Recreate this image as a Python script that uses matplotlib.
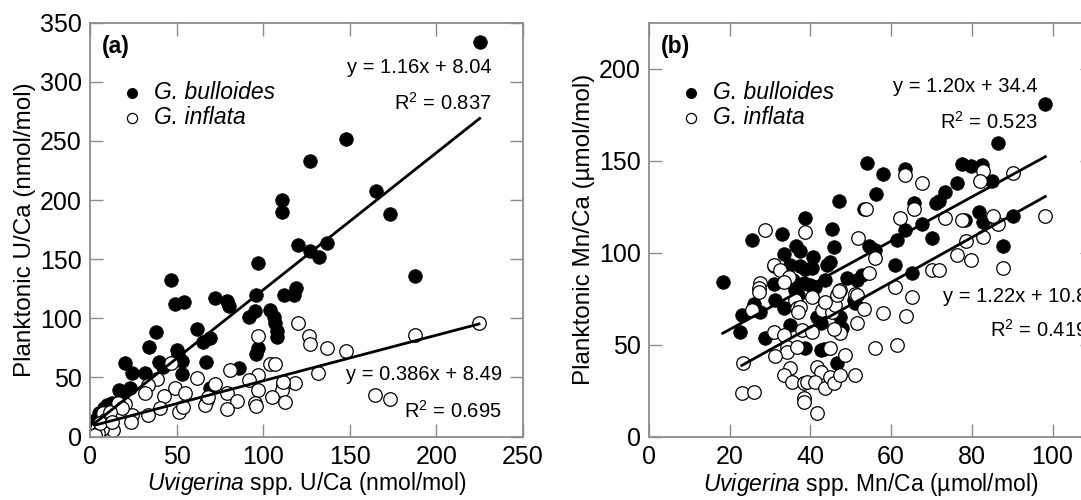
import matplotlib
matplotlib.use("Agg")
import matplotlib.pyplot as plt
import numpy as np

plt.rcParams['font.family'] = ['Liberation Sans', 'DejaVu Sans']
plt.rcParams['mathtext.fontset'] = 'custom'
plt.rcParams['mathtext.rm'] = 'Liberation Sans'
plt.rcParams['mathtext.it'] = 'Liberation Sans:italic'
plt.rcParams['mathtext.bf'] = 'Liberation Sans:bold'

# ---------------- Panel (a): U/Ca ----------------
a_bul_x = [225, 148, 127, 165, 173, 110.6, 110.6, 120, 127, 132, 137, 187.5, 97, 47, 49,
           54, 72, 79, 80, 96, 104, 106, 107, 108, 108, 92, 95, 119, 118, 112,
           97, 96, 61.5, 65, 69, 67, 34, 38, 20, 24, 32, 40, 42, 50, 51,
           53, 53, 86, 17, 18, 23, 69, 10, 8, 5, 3, 2, 12.5]
a_bul_y = [334, 252, 233, 208, 188, 200, 190, 162, 157, 152, 164, 136, 147, 132, 112,
           114, 117, 115, 110, 120, 107, 101, 96, 89, 84, 101, 106, 126, 120, 120,
           75, 70, 91, 80, 83, 63, 76, 88, 62, 54, 54, 63, 59, 73, 69,
           64, 53, 58, 39, 37, 41, 41, 27, 24, 20, 14, 8, 28]
a_inf_x = [224.6, 187.5, 120, 126.5, 127.3, 137, 147.7, 131.4, 118.3, 111.5, 110.6, 112.5,
           164.8, 173, 97.1, 104.2, 106.7, 111.2, 104.8, 97.1, 91.9, 97.1, 95.2, 95.8,
           80.8, 78.9, 85, 79.2, 72.1, 61.5, 67.3, 66.3, 68.3, 46.7, 49, 54.8, 51.3, 53.5,
           38.5, 33.7, 31.7, 42.7, 40.4, 33.7, 20.2, 24, 23.7, 16.3, 18.3, 13.5, 7.7, 6.7,
           8.7, 3.8, 4.8, 3, 5.8, 11.5, 12.7]
a_inf_y = [96.4, 86, 96.4, 84.6, 78.4, 74.7, 71.9, 54.1, 45.1, 43.6, 39.4, 29.5,
           35.2, 31.8, 84.6, 61.2, 61.2, 46.4, 33.7, 52.1, 47.9, 39.4, 28.6, 25.8,
           56.4, 36.6, 30.1, 23, 44.5, 49.3, 30.9, 26.7, 33.7, 62, 40.8, 37.1, 21, 25.3,
           48.7, 43.6, 37.1, 34.3, 23.9, 18.2, 27.5, 18.2, 12.5, 28.1, 23.9, 5.5, 19.7, 6.1,
           14, 7, 3, 1, 11.7, 21, 12.5]
a_fit_bul = (1.16, 8.04)
a_fit_inf = (0.386, 8.49)

# ---------------- Panel (b): Mn/Ca ----------------
b_bul_x = [18.3, 23, 25.9, 27.6, 22.6, 28.8, 25.5, 33, 38.7, 36.5, 37.5, 33.4, 40.6, 40.4,
           35, 37.5, 38.7, 30.9, 30.9, 35.8, 38.3, 35.4, 36.3, 40, 41.2, 31.3, 33.4, 38.7,
           42.5, 43.3, 46.6, 47.8, 51.1, 41.6, 42.5, 44.1, 47.4, 35, 37, 45.4, 45.8, 44.1,
           44.9, 43.7, 49.1, 51.5, 52.8, 47.2, 53.2, 53.9, 58, 63.5, 56.3, 65.6, 71.2, 54.4,
           56.1, 61.5, 63.5, 67.7, 70.1, 61, 65.2, 77.6, 79.8, 82.5, 85, 76.3, 73.4, 71.8,
           81.7, 82.8, 90.2, 78.4, 87.7, 86.5, 98.2, 50.7]
b_bul_y = [84, 66, 72, 68, 57, 54, 107, 110, 119, 104, 101, 99.5, 98, 92,
           93.5, 92.6, 91, 92.6, 83, 85, 83.5, 83.5, 80, 82.6, 81.7, 74.5, 70, 48.5,
           47.3, 47.7, 40, 59, 72.7, 65.4, 61.8, 69, 65.4, 61, 77, 113, 103.4, 93.5,
           95.3, 85.3, 86.3, 85.3, 88, 128, 123.7, 149, 143, 145.5, 132, 127, 127.3, 104,
           101.6, 107, 112.5, 115.5, 108, 93.5, 89.3, 148.4, 147.4, 147.8, 139.3, 138.2, 133.3, 128,
           122.4, 117, 120, 117.6, 103.8, 159.6, 181, 74.5]
b_inf_x = [28.8, 38.7, 30.9, 32.5, 34.8, 27.6, 27.2, 27.2, 33.4, 25.5, 36.3, 36.7, 37.5, 37,
           40.4, 42.9, 45.4, 46.2, 47.4, 46.6, 30.9, 33.4, 34.2, 34.2, 31.3, 36.7, 37.9, 40.4,
           23.4, 23, 25.9, 35, 33.4, 35.4, 38.3, 38.3, 38.3, 41.6, 41.6, 42.5, 39.2, 41.2,
           43.7, 44.9, 45.8, 47.4, 48.6, 51.1, 51.5, 47.4, 44.9, 45.8, 43.7, 47.2, 51.1, 51.9,
           61, 65.2, 58, 63.7, 53.2, 56.1, 61.5, 54.4, 56.1, 51.5, 70.1, 71.8, 76.3, 79.8,
           78.6, 82.8, 86.4, 87.7, 63.5, 67.7, 82.8, 81.9, 90.2, 98.2, 53.8, 65.6, 62.1, 73.4,
           77.6, 85.3]
b_inf_y = [112.5, 111.6, 93.5, 90.8, 87.1, 83.5, 80.8, 79, 84.4, 69, 74.5, 70, 70.8, 68.1,
           76.2, 69, 68.1, 71.7, 79.9, 77.2, 57.2, 55.4, 49.1, 46.4, 44, 49.1, 58.2, 57.2,
           40.4, 23.8, 24.6, 37.3, 33.7, 30, 29.2, 21, 19.2, 12.9, 38.2, 35.5, 30, 30,
           26.5, 32.8, 29.2, 33.7, 44.6, 33.7, 61.8, 56.4, 48.2, 58.5, 73.5, 79.5, 77.7, 108,
           81.4, 76.2, 67.6, 65.8, 69.4, 48.2, 50, 89, 97.1, 77.2, 90.8, 90.8, 98.9, 96.2,
           106.5, 108.7, 115.5, 92, 142.4, 138.2, 144.7, 139.3, 143.6, 120.1, 123.8, 123.7, 118.9, 118.9,
           117.6, 120.1]
b_fit_bul = (1.20, 34.4)
b_fit_inf = (1.22, 10.8)

W, H = 1081, 500
fig = plt.figure(figsize=(W / 100, H / 100), dpi=100)

ax_a = fig.add_axes([90 / W, 63.5 / H, 433 / W, 413.8 / H])
ax_b = fig.add_axes([649 / W, 63 / H, 443.9 / W, 414.3 / H])

spine_col = '#8c8c8c'
FS_TICK = 18
FS_XLAB = 16.5
FS_YLAB = 17.5
FS_EQ = 14.5
FS_LEG = 16.5

def style(ax):
    for s in ax.spines.values():
        s.set_color(spine_col)
        s.set_linewidth(1.3)
    ax.tick_params(direction='in', length=9.5, width=1.0, color=spine_col,
                   top=True, right=True, labelsize=FS_TICK, pad=6)

def draw_panel(ax, bx, by, ix, iy, fb, fi):
    bx = np.asarray(bx); by = np.asarray(by)
    ix = np.asarray(ix); iy = np.asarray(iy)
    h1 = ax.scatter(bx, by, s=95, c='black', edgecolors='black', linewidths=0.6,
                    zorder=2, label='G. bulloides')
    h2 = ax.scatter(ix, iy, s=95, facecolors='white', edgecolors='black', linewidths=0.9,
                    zorder=2.5, label='G. inflata')
    xb = np.array([bx.min(), bx.max()])
    xi = np.array([ix.min(), ix.max()])
    ax.plot(xb, fb[0] * xb + fb[1], color='black', lw=2.0, zorder=3)
    ax.plot(xi, fi[0] * xi + fi[1], color='black', lw=2.0, zorder=3)
    return h1, h2

# Panel (a)
h1, h2 = draw_panel(ax_a, a_bul_x, a_bul_y, a_inf_x, a_inf_y, a_fit_bul, a_fit_inf)
ax_a.set_xlim(0, 250)
ax_a.set_ylim(0, 350)
ax_a.set_xticks(np.arange(0, 251, 50))
ax_a.set_yticks(np.arange(0, 351, 50))
style(ax_a)
ax_a.set_xlabel(r'$\it{Uvigerina}$ spp. U/Ca (nmol/mol)', fontsize=FS_XLAB, labelpad=1)
ax_a.set_ylabel('Planktonic U/Ca (nmol/mol)', fontsize=FS_YLAB, labelpad=3)
ax_a.text(0.027, 0.942, '(a)', transform=ax_a.transAxes, fontsize=16.5, fontweight='bold',
          ha='left', va='center')
ax_a.text(0.928, 0.891, 'y = 1.16x + 8.04', transform=ax_a.transAxes, fontsize=FS_EQ,
          ha='right', va='center')
ax_a.text(0.928, 0.806, r'R$^2$ = 0.837', transform=ax_a.transAxes, fontsize=FS_EQ,
          ha='right', va='center')
ax_a.text(0.951, 0.149, 'y = 0.386x + 8.49', transform=ax_a.transAxes, fontsize=FS_EQ,
          ha='right', va='center')
ax_a.text(0.951, 0.062, r'R$^2$ = 0.695', transform=ax_a.transAxes, fontsize=FS_EQ,
          ha='right', va='center')
ax_a.legend(handles=[h1, h2], loc='upper left', bbox_to_anchor=(0.043, 0.886),
            frameon=False, borderpad=0, handlelength=1.0, handletextpad=0.47,
            labelspacing=0.08, markerscale=0.75,
            prop={'style': 'italic', 'size': FS_LEG})

# Panel (b)
g1, g2 = draw_panel(ax_b, b_bul_x, b_bul_y, b_inf_x, b_inf_y, b_fit_bul, b_fit_inf)
ax_b.set_xlim(0, 110)
ax_b.set_ylim(0, 225)
ax_b.set_xticks(np.arange(0, 101, 20))
ax_b.set_yticks(np.arange(0, 201, 50))
style(ax_b)
ax_b.set_xlabel(r'$\it{Uvigerina}$ spp. Mn/Ca (µmol/mol)', fontsize=FS_XLAB, labelpad=1)
ax_b.set_ylabel('Planktonic Mn/Ca (µmol/mol)', fontsize=FS_YLAB, labelpad=3)
ax_b.text(0.026, 0.942, '(b)', transform=ax_b.transAxes, fontsize=16.5, fontweight='bold',
          ha='left', va='center')
ax_b.text(0.875, 0.846, 'y = 1.20x + 34.4', transform=ax_b.transAxes, fontsize=FS_EQ,
          ha='right', va='center')
ax_b.text(0.875, 0.761, r'R$^2$ = 0.523', transform=ax_b.transAxes, fontsize=FS_EQ,
          ha='right', va='center')
ax_b.text(0.662, 0.340, 'y = 1.22x + 10.8', transform=ax_b.transAxes, fontsize=FS_EQ,
          ha='left', va='center')
ax_b.text(0.768, 0.258, r'R$^2$ = 0.419', transform=ax_b.transAxes, fontsize=FS_EQ,
          ha='left', va='center')
ax_b.legend(handles=[g1, g2], loc='upper left', bbox_to_anchor=(0.042, 0.886),
            frameon=False, borderpad=0, handlelength=1.0, handletextpad=0.47,
            labelspacing=0.08, markerscale=0.75,
            prop={'style': 'italic', 'size': FS_LEG})

fig.savefig('out.png', dpi=100)
